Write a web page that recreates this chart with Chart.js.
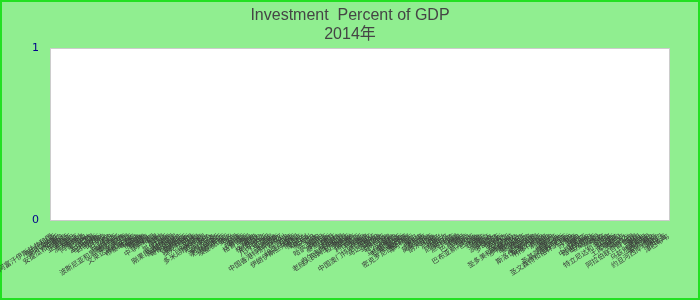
<!DOCTYPE html>
<html>
<head>
<meta charset="utf-8">
<script src="https://cdn.jsdelivr.net/npm/chart.js@4/dist/chart.umd.min.js"></script>
<style>
  html,body{margin:0;padding:0;background:#90ee90;}
  #wrap{width:700px;height:300px;}
</style>
</head>
<body>
<div id="wrap"><canvas id="chart" width="700" height="300"></canvas></div>
<script>
// ---------------- данные ----------------
const TITLE = ["Investment  Percent of GDP", "2014年"];

// страны (подписи оси X)
const countries = [
  "阿富汗伊斯兰共和国","阿尔巴尼亚","阿尔及利亚","安哥拉","安提瓜和巴布达","阿根廷","亚美尼亚","阿鲁巴",
  "澳大利亚","奥地利","阿塞拜疆","巴哈马","巴林","孟加拉国","巴巴多斯","白俄罗斯","比利时","伯利兹",
  "贝宁","不丹","玻利维亚","波斯尼亚和黑塞哥维那","博茨瓦纳","巴西","文莱达鲁萨兰国","保加利亚",
  "布基纳法索","布隆迪","佛得角","柬埔寨","喀麦隆","加拿大","中非共和国","乍得","智利","中国",
  "哥伦比亚","科摩罗","刚果民主共和国","刚果共和国","哥斯达黎加","科特迪瓦","克罗地亚","塞浦路斯",
  "捷克共和国","丹麦","吉布提","多米尼克","多米尼加共和国","厄瓜多尔","埃及","萨尔瓦多","赤道几内亚",
  "厄立特里亚","爱沙尼亚","埃塞俄比亚","斐济","芬兰","法国","加蓬","冈比亚","格鲁吉亚","德国","加纳",
  "希腊","格林纳达","危地马拉","几内亚","几内亚比绍","圭亚那","海地","洪都拉斯","中国香港特别行政区",
  "匈牙利","冰岛","印度","印度尼西亚","伊朗伊斯兰共和国","伊拉克","爱尔兰","以色列","意大利","牙买加",
  "日本","约旦","哈萨克斯坦","肯尼亚","基里巴斯","韩国","科索沃","科威特","吉尔吉斯共和国",
  "老挝人民民主共和国","拉脱维亚","黎巴嫩","莱索托","利比里亚","利比亚","立陶宛","卢森堡",
  "中国澳门特别行政区","马其顿","马达加斯加","马拉维","马来西亚","马尔代夫","马里","马耳他",
  "马绍尔群岛","毛里塔尼亚","毛里求斯","墨西哥","密克罗尼西亚联邦","摩尔多瓦","蒙古","黑山","摩洛哥",
  "莫桑比克","缅甸","纳米比亚","瑙鲁","尼泊尔","荷兰","新西兰","尼加拉瓜","尼日尔","尼日利亚","挪威",
  "阿曼","巴基斯坦","帕劳","巴拿马","巴布亚新几内亚","巴拉圭","秘鲁","菲律宾","波兰","葡萄牙",
  "波多黎各","卡塔尔","罗马尼亚","俄罗斯","卢旺达","萨摩亚","圣马力诺","圣多美和普林西比",
  "沙特阿拉伯","塞内加尔","塞尔维亚","塞舌尔","塞拉利昂","新加坡","斯洛伐克共和国","斯洛文尼亚",
  "所罗门群岛","索马里","南非","南苏丹","西班牙","斯里兰卡","圣基茨和尼维斯","圣卢西亚",
  "圣文森特和格林纳丁斯","苏丹","苏里南","瑞典","瑞士","叙利亚","中国台湾省","塔吉克斯坦","坦桑尼亚",
  "泰国","东帝汶","多哥","汤加","特立尼达和多巴哥","突尼斯","土耳其","土库曼斯坦","图瓦卢","乌干达",
  "乌克兰","阿拉伯联合酋长国","英国","美国","乌拉圭","乌兹别克斯坦","瓦努阿图","委内瑞拉","越南",
  "约旦河西岸和加沙","也门","赞比亚","津巴布韦"
];

// значения: на картинке ни одного столбика не видно — серия пустая
const values = [];

// шкала Y
const Y_MIN = 0, Y_MAX = 1, Y_STEP = 1;

// ---------------- фон ----------------
const backdrop = {
  id: "backdrop",
  beforeDraw(c){
    const ctx = c.ctx, a = c.chartArea;
    ctx.save();
    ctx.fillStyle = "#90ee90";
    ctx.fillRect(0, 0, c.width, c.height);
    ctx.strokeStyle = "#22e022";
    ctx.lineWidth = 2;
    ctx.strokeRect(1, 1, c.width - 2, c.height - 2);
    ctx.fillStyle = "#ffffff";
    ctx.fillRect(a.left, a.top, a.right - a.left, a.bottom - a.top);
    ctx.strokeStyle = "#cccccc";
    ctx.lineWidth = 1;
    ctx.strokeRect(a.left + 0.5, a.top + 0.5, a.right - a.left - 1, a.bottom - a.top);
    ctx.restore();
  }
};

new Chart(document.getElementById("chart"), {
  type: "bar",
  data: { labels: countries, datasets: [{ label: TITLE[0], data: values, backgroundColor: "#4f81bd" }] },
  options: {
    responsive: false, animation: false,
    // слева и справа одинаково, чтобы заголовок стоял по центру холста
    layout: { padding: { left: 30, right: 30, top: 0, bottom: 0 } },
    plugins: {
      legend: { display: false },
      tooltip: { enabled: false },
      title: {
        display: true, text: TITLE, color: "#454545",
        font: { family: "'Liberation Sans', Arial, 'Noto Sans CJK SC'", size: 16, weight: "normal" },
        padding: { top: 6, bottom: 3.6 }
      }
    },
    scales: {
      x: {
        grid: { display: false, drawTicks: false }, border: { display: false },
        ticks: {
          autoSkip: false, minRotation: 33, maxRotation: 33, padding: 12, color: "#3a3a3a",
          font: { family: "'Noto Sans CJK SC'", size: 7 }
        },
        afterFit(s){ s.height = 80; s.paddingLeft = 0; s.paddingRight = 0; }
      },
      y: {
        min: Y_MIN, max: Y_MAX,
        grid: { display: false, drawTicks: false }, border: { display: false },
        ticks: { stepSize: Y_STEP, padding: 11, color: "#00008b",
                 font: { family: "'DejaVu Sans'", size: 11 } },
        afterFit(s){ s.width = 20; s.paddingTop = 0; s.paddingBottom = 0; }
      }
    }
  },
  plugins: [backdrop]
});
</script>
</body>
</html>
